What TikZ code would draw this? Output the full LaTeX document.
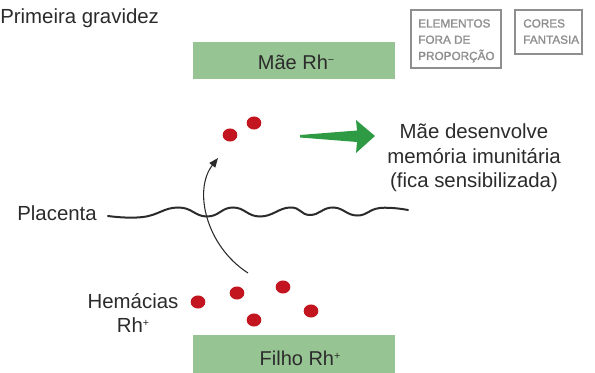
\documentclass[tikz,border=0pt]{standalone}
\usepackage{fontspec}
\setmainfont{Liberation Sans}[BoldFont={Liberation Sans Bold}]
\newfontfamily\tagfont{Liberation Sans}[FakeBold=1.5]
\usetikzlibrary{arrows.meta,shapes.geometric}
\definecolor{boxgreen}{HTML}{97C493}
\definecolor{arrgreen}{HTML}{2E9B44}
\definecolor{cellred}{HTML}{C3151F}
\definecolor{tagcol}{HTML}{8E8E8E}
\definecolor{txt}{HTML}{2B2B2B}
\newcommand{\supm}{\raisebox{0.55ex}{\fontsize{8}{8}\selectfont −}}
\newcommand{\supp}{\raisebox{0.55ex}{\fontsize{8}{8}\selectfont +}}
\begin{document}
\begin{tikzpicture}[x=0.75pt,y=-0.75pt,
  label/.style={font=\fontsize{15.3}{18.4}\selectfont, text=txt, inner sep=0pt, align=center},
  tagbox/.style={font=\tagfont\fontsize{8.8}{12.2}\selectfont, text=tagcol, align=left, inner sep=0pt},
  cell/.style={ellipse, fill=cellred, draw=none, minimum width=11pt, minimum height=9.8pt, inner sep=0pt},
  thinarrow/.style={line width=0.8pt, -{Triangle[length=7pt,width=5.5pt]}}
]
\useasboundingbox (0,0) rectangle (595,373);

% title
\node[label, anchor=west] (title) at (0,18) {Primeira gravidez};

% green boxes
\fill[boxgreen] (193,42) rectangle (395,79);
\node[inner sep=0pt, font=\fontsize{15}{18}\selectfont, text=txt] (mae) at (296,62) {Mãe Rh\supm};
\fill[boxgreen] (193,335) rectangle (395,373);
\node[inner sep=0pt, font=\fontsize{15}{18}\selectfont, text=txt] (filho) at (300,358) {Filho Rh\supp};

% tag boxes
\draw[tagcol, line width=1.1pt] (411,10) rectangle (501,68);
\node[tagbox, anchor=north west] (tag1) at (418,19) {ELEMENTOS\\FORA DE\\PROPORÇÃO};
\draw[tagcol, line width=1.1pt] (515,10) rectangle (582,54);
\node[tagbox, anchor=north west] (tag2) at (523,19) {CORES\\FANTASIA};

% red cells (top)
\node[cell] (c1) at (230,135) {};
\node[cell] (c2) at (254,123) {};
% red cells (bottom)
\node[cell] (c3) at (198,302) {};
\node[cell] (c4) at (237,293) {};
\node[cell] (c5) at (283,287) {};
\node[cell] (c6) at (311,311) {};
\node[cell] (c7) at (254,320) {};

% green arrow
\coordinate (gtail) at (300,136);
\coordinate (gtip) at (375,136);
\fill[arrgreen] (gtail) -- (300,135) -- (357,130.5) -- (356,120) -- (gtip) -- (356,153) -- (357,142) -- (300,137.5) -- cycle;

% result text
\node[label] (res) at (474,158) {Mãe desenvolve\\memória imunitária\\(fica sensibilizada)};

% placenta
\node[label, anchor=east] (plac) at (97,213) {Placenta};
\coordinate (w0) at (108,216);
\draw[line width=1.5pt, line cap=round, txt] plot[smooth, tension=0.8] coordinates {
  (w0) (143,217) (178,207.5) (207,216.5) (233,207.5) (260,216.5) (290,207.5) (310,215) (333,207.5) (357,215.5) (380,208) (408,210)};

% crossing arrow
\coordinate (abot) at (248,273);
\coordinate (atop) at (218,158);
\draw[thinarrow, txt] (abot) .. controls (206,246) and (193,190) .. (atop);

% hemacias label
\node[label] (hem) at (133,313) {Hemácias\\Rh\supp};
\end{tikzpicture}
\end{document}
